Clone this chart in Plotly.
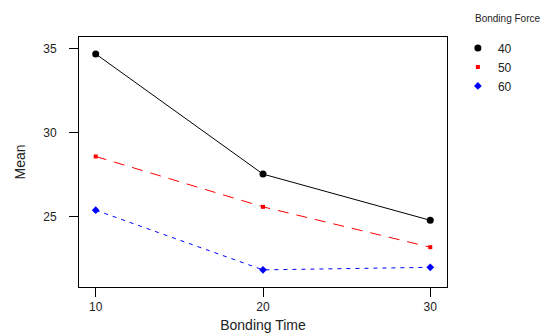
import plotly.graph_objects as go

times = [10, 20, 30]
force_labels = ["40", "50", "60"]
mean_40 = [34.7, 27.55, 24.8]
mean_50 = [28.6, 25.6, 23.2]
mean_60 = [25.4, 21.85, 22.0]
x_ticks = [10, 20, 30]
y_ticks = [25, 30, 35]
legend_title = "Bonding Force"

series = [
    (force_labels[0], mean_40, "black", "solid", "circle", 7),
    (force_labels[1], mean_50, "red", "11px,8px", "square", 4),
    (force_labels[2], mean_60, "blue", "4px,5px", "diamond", 6),
]

fig = go.Figure()
for name, vals, col, dash, sym, sz in series:
    fig.add_trace(go.Scatter(x=times, y=vals, mode="lines+markers", name=name,
                             line=dict(color=col, width=1, dash=dash),
                             marker=dict(color=col, symbol=sym, size=sz),
                             showlegend=False))
for name, vals, col, dash, sym, sz in series:
    fig.add_trace(go.Scatter(x=[None], y=[None], mode="markers", name=name,
                             marker=dict(color=col, symbol=sym, size=sz),
                             showlegend=True))

axis_common = dict(showgrid=False, zeroline=False, showline=True, linecolor="black",
                   linewidth=1, mirror=True, ticks="outside", ticklen=9,
                   tickcolor="black", tickfont=dict(size=12, color="#222"),
                   automargin=False)
fig.update_xaxes(range=[9, 31], tickvals=x_ticks,
                 title=dict(text="Bonding Time", font=dict(size=14, color="#222"), standoff=6),
                 **axis_common)
fig.update_yaxes(range=[20.83, 35.71], tickvals=y_ticks, ticklabelstandoff=10,
                 title=dict(text="Mean", font=dict(size=14, color="#222"), standoff=14),
                 **axis_common)

fig.add_annotation(text=legend_title, xref="paper", yref="paper", x=1.072, y=1.072,
                   xanchor="left", yanchor="middle", showarrow=False,
                   font=dict(size=10, color="#222"))

fig.update_layout(
    width=552, height=326,
    margin=dict(l=71, r=113, t=29, b=47),
    plot_bgcolor="white", paper_bgcolor="white",
    font=dict(family="Arial, Liberation Sans, sans-serif"),
    legend=dict(xref="container", yref="container", x=0.815, xanchor="left",
                y=0.922, yanchor="top",
                font=dict(size=12, color="#222"), itemwidth=30,
                bgcolor="rgba(0,0,0,0)"),
)

fig.write_html("out.html")
